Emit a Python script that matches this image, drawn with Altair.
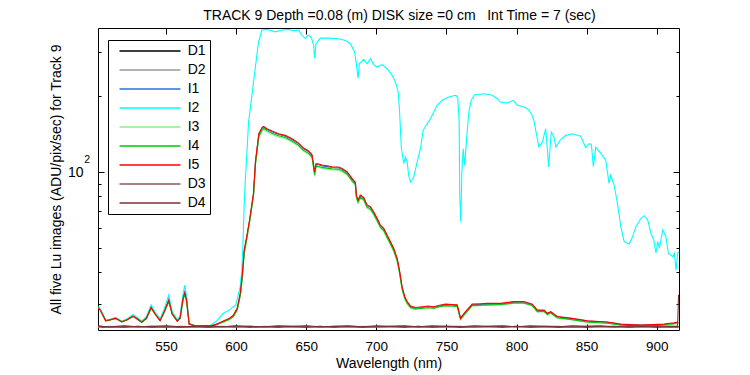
import altair as alt
import pandas as pd

FONT = "Liberation Sans"
TITLE = "TRACK 9 Depth =0.08 (m) DISK size =0 cm \u00a0\u00a0Int Time = 7 (sec)"
X_TITLE = "Wavelength (nm)"
Y_TITLE = "All five Lu images (ADU/pix/sec) for Track 9"

SERIES = ["D1", "D2", "I1", "I2", "I3", "I4", "I5", "D3", "D4"]
COLORS = ["#000000", "#999999", "#2673d9", "#00ffff", "#90ee90",
          "#00c800", "#ff0000", "#8c5a5a", "#7a3030"]

X_DOMAIN = [501.5, 915.9]
Y_DOMAIN = [23.6, 373.0]
X_TICKS = [550, 600, 650, 700, 750, 800, 850, 900]
Y_TICKS = [30, 40, 50, 60, 70, 80, 90, 100, 200, 300]
Y_MAJOR = [100]

# wavelengths for the four similar Lu images (I1, I3, I4, I5)
WL_I = [501.5, 503, 507, 510, 514, 518.5, 522, 526.5, 529.5, 532.7,
        536, 539.4, 542.2, 545.8, 548.6, 552, 554.4, 558, 560, 562.2,
        563.4, 564.7, 566.5, 570.8, 576, 581.5, 586.3, 590.8, 595, 598,
        600.8, 603, 604.4, 605.8, 607.5, 609.6, 612.4, 613.8, 616.2, 618.6,
        619.6, 622, 625.6, 630.3, 635.1, 639.9, 644.6, 648.1, 651.7, 654.1,
        655.3, 656, 657, 658.9, 661.3, 666, 668.4, 673.1, 675.6, 679.1,
        682.7, 685.1, 685.8, 687, 688.6, 691, 693.4, 695.8, 698.1, 700.6,
        702.9, 705.3, 707.7, 710.1, 712.4, 714.9, 716.5, 718.4, 720.3, 722,
        724.4, 727.9, 732.7, 737, 741, 745, 749.4, 754, 757.7, 760.1,
        763.6, 768.4, 774, 779.1, 788.6, 798.1, 805.3, 811.3, 814.9, 819.6,
        822, 824.4, 829.1, 838.6, 850.6, 864.9, 874.4, 888.6, 905.3, 912.4,
        915.3]

I5 = [28.9, 28.4, 25.6, 25.9, 26.3, 25.4, 25.9, 26.8, 26.1, 25.3,
      26.3, 29.0, 27.3, 25.7, 27.8, 31.0, 27.3, 25.6, 26.3, 31.6,
      33.2, 31.0, 24.9, 24.5, 24.4, 24.4, 24.9, 25.6, 26.2, 27.0,
      28.8, 33.1, 39.0, 49.0, 55.0, 64.5, 82.3, 110.0, 142.0, 150.5,
      151.8, 148.5, 145.4, 141.9, 139.8, 135.6, 130.3, 124.5, 121.2, 117.3,
      106.6, 100.0, 107.9, 107.6, 106.6, 105.6, 105.0, 104.7, 103.4, 100.3,
      94.4, 90.9, 81.0, 77.4, 81.0, 79.4, 74.0, 72.9, 69.6, 65.5,
      61.6, 59.8, 56.2, 52.9, 49.8, 45.4, 40.8, 35.0, 32.0, 30.6,
      29.4, 29.0, 29.2, 29.4, 29.2, 29.6, 29.9, 29.8, 29.7, 26.3,
      27.9, 29.9, 30.0, 30.1, 30.1, 30.6, 30.6, 29.9, 28.3, 28.3,
      27.5, 27.9, 26.7, 26.3, 25.7, 25.4, 24.9, 24.7, 24.9, 25.2,
      25.4]

I4 = [29.2, 28.5, 25.8, 25.8, 26.2, 25.5, 25.8, 26.7, 26.2, 25.4,
      26.2, 28.8, 27.4, 25.8, 27.6, 30.6, 27.4, 25.7, 26.2, 31.2,
      32.8, 30.6, 25.0, 24.6, 24.5, 24.5, 24.8, 25.4, 26.0, 26.7,
      28.4, 32.5, 38.2, 48.0, 54.0, 63.5, 81.0, 107.5, 138.5, 147.5,
      149.2, 146.0, 142.6, 139.2, 137.0, 132.8, 127.6, 121.9, 118.6, 114.8,
      104.0, 97.5, 105.5, 105.2, 104.3, 103.4, 102.9, 102.6, 101.3, 98.2,
      92.5, 89.0, 79.5, 76.0, 79.4, 77.8, 72.6, 71.4, 68.2, 64.2,
      60.4, 58.6, 55.1, 51.9, 48.8, 44.5, 40.1, 34.4, 31.5, 30.2,
      29.0, 28.6, 28.8, 29.0, 28.8, 29.2, 29.5, 29.4, 29.3, 26.0,
      27.5, 29.5, 29.6, 29.7, 29.8, 30.2, 30.2, 29.5, 27.9, 28.0,
      27.2, 27.6, 26.4, 26.0, 25.4, 25.1, 24.7, 24.6, 24.8, 25.0,
      25.2]

I3 = [29.0, 28.3, 25.7, 25.9, 26.1, 25.5, 25.9, 26.6, 26.0, 25.4,
      26.1, 28.7, 27.2, 25.8, 27.5, 30.5, 27.2, 25.7, 26.1, 31.0,
      32.6, 30.4, 25.0, 24.5, 24.4, 24.5, 24.8, 25.3, 25.9, 26.6,
      28.2, 32.0, 37.5, 47.0, 53.0, 62.5, 79.5, 106.0, 136.5, 145.5,
      147.2, 144.0, 141.0, 137.6, 135.6, 131.5, 126.4, 120.8, 117.6, 113.8,
      103.4, 96.0, 104.7, 104.4, 103.4, 102.4, 101.9, 101.6, 100.3, 97.3,
      91.6, 88.2, 78.6, 75.1, 78.6, 77.0, 71.8, 70.7, 67.5, 63.5,
      59.8, 58.0, 54.5, 51.3, 48.3, 44.0, 39.6, 34.0, 31.2, 29.9,
      28.8, 28.5, 28.7, 28.9, 28.7, 29.1, 29.4, 29.3, 29.2, 25.9,
      27.4, 29.4, 29.5, 29.6, 29.6, 30.1, 30.1, 29.4, 27.8, 27.9,
      27.1, 27.5, 26.3, 25.9, 25.3, 25.1, 24.6, 24.5, 24.7, 24.9,
      25.1]

I1 = [29.0, 28.4, 25.7, 25.9, 26.2, 25.4, 25.9, 26.8, 26.1, 25.3,
      26.2, 29.1, 27.3, 25.7, 27.9, 31.2, 27.3, 25.6, 26.3, 31.8,
      33.5, 31.1, 24.9, 24.5, 24.4, 24.4, 24.9, 25.5, 26.1, 26.9,
      28.7, 32.9, 38.8, 48.8, 54.7, 64.2, 81.8, 109.3, 141.2, 149.8,
      151.0, 147.6, 144.5, 141.0, 138.8, 134.6, 129.4, 123.6, 120.3, 116.5,
      105.8, 99.2, 107.1, 106.8, 105.8, 104.8, 104.2, 103.9, 102.6, 99.6,
      93.7, 90.2, 80.4, 76.8, 80.4, 78.8, 73.5, 72.4, 69.1, 65.0,
      61.2, 59.4, 55.8, 52.5, 49.5, 45.1, 40.5, 34.8, 31.8, 30.4,
      29.2, 28.8, 29.0, 29.2, 29.0, 29.4, 29.7, 29.6, 29.5, 26.2,
      27.7, 29.7, 29.8, 29.9, 29.9, 30.4, 30.4, 29.7, 28.1, 28.2,
      27.3, 27.8, 26.6, 26.2, 25.6, 25.3, 24.8, 24.7, 24.8, 25.1,
      25.3]

WL_I2 = [501.5, 503, 507, 510, 514, 518.5, 522, 526.5, 529.5, 532.7,
         536, 539.4, 542.2, 545.8, 548.6, 552, 554.4, 558, 560, 562.2,
         563.4, 564.7, 566.5, 570.8, 576, 581.5, 586, 590.9, 595, 599.8,
         602.9, 604.1, 604.8, 605.8, 606.5, 607.7, 608.9, 611.3, 613.6, 616,
         618.4, 622, 627.9, 633, 637.2, 641, 644.6, 647, 649.4, 651.3,
         653.6, 655.3, 656, 657, 660.1, 666, 673.1, 677.9, 681.5, 684.6,
         685.6, 687, 687.9, 691, 693.4, 695.8, 698.1, 700.6, 704.1, 707.7,
         711.3, 713.6, 715.6, 716.5, 717.2, 717.9, 719.6, 720.8, 722, 723.1,
         724.4, 726.7, 728.6, 731.5, 733.4, 736.3, 738.6, 741, 743.4, 747,
         751.7, 756.5, 758.1, 759.1, 759.5, 760.3, 761, 762, 763.1, 764.4,
         766, 767.7, 770.1, 776.7, 782.7, 786.3, 788.6, 793.4, 797.7, 800.6,
         805.3, 807.7, 810.6, 812.4, 814.4, 816, 818.4, 820.8, 822, 822.9,
         824.8, 826.7, 828.1, 831, 835.1, 839.9, 845.8, 849.4, 851.6, 853.4,
         854.8, 856.5, 860.1, 863.6, 866, 867.2, 869.6, 872, 874.4, 876.8,
         880.4, 882.8, 885.2, 888.8, 891.1, 893.6, 895.9, 897.9, 899.5, 900.7,
         901.9, 904.3, 906.6, 908.3, 911.4, 912.6, 913.8, 915, 915.6]

I2 = [29.2, 28.6, 25.8, 26.0, 26.5, 25.6, 26.1, 27.2, 26.4, 25.6,
      26.7, 29.7, 27.8, 26.1, 28.5, 32.5, 28.0, 25.9, 26.8, 33.0,
      35.6, 32.0, 25.0, 24.5, 24.5, 24.6, 25.6, 27.5, 28.3, 29.7,
      35.0, 40.8, 50.0, 75.0, 91.0, 119.0, 158.0, 202.0, 257.0, 328.0,
      366.0, 368.0, 360.0, 366.0, 368.0, 364.0, 366.0, 349.0, 338.0, 349.0,
      343.0, 318.0, 283.0, 323.0, 340.0, 340.0, 338.0, 333.0, 323.0, 299.0,
      273.0, 236.0, 269.0, 280.0, 269.0, 282.0, 267.0, 261.0, 267.0, 257.0,
      242.0, 228.0, 208.0, 178.0, 148.0, 124.0, 108.0, 114.7, 109.6, 97.0,
      91.3, 95.5, 106.3, 123.7, 146.4, 155.5, 162.7, 173.0, 184.0, 192.6,
      198.5, 201.6, 198.5, 157.9, 80.8, 63.3, 100.0, 123.7, 106.3, 135.6,
      173.0, 192.6, 202.6, 204.5, 201.6, 195.4, 189.6, 187.9, 192.6, 184.0,
      181.1, 178.3, 170.4, 160.4, 139.8, 125.6, 131.5, 148.5, 123.7, 104.7,
      144.1, 137.7, 125.6, 133.6, 139.8, 141.9, 138.7, 125.0, 129.5, 129.0,
      105.0, 125.3, 118.6, 111.6, 90.2, 97.3, 88.8, 75.1, 60.7, 52.9,
      51.8, 55.4, 60.7, 65.5, 67.1, 64.5, 57.1, 53.7, 47.6, 52.9,
      49.8, 58.9, 55.4, 47.6, 46.1, 47.6, 40.8, 47.6, 48.3]

# dark frames
WL_D = [501.5, 505, 510, 520, 530, 540, 550, 560, 570, 580,
        590, 600, 610, 620, 630, 640, 650, 660, 670, 680,
        690, 700, 710, 720, 730, 740, 750, 760, 770, 780,
        790, 800, 810, 820, 830, 840, 850, 860, 870, 880,
        890, 900, 910, 914.9, 915.6]
D1 = [24.3, 24.2, 24.3, 24.2, 24.4, 24.2, 24.3, 24.2, 24.3, 24.2,
      24.3, 24.4, 24.2, 24.3, 24.2, 24.3, 24.2, 24.4, 24.2, 24.3,
      24.2, 24.3, 24.3, 24.2, 24.4, 24.2, 24.3, 24.2, 24.3, 24.3,
      24.2, 24.4, 24.2, 24.3, 24.2, 24.3, 24.2, 24.3, 24.4, 24.2,
      24.3, 24.2, 24.3, 24.2, 24.3]
D2 = [24.2, 24.3, 24.4, 24.3, 24.2, 24.3, 24.4, 24.3, 24.2, 24.4,
      24.2, 24.3, 24.3, 24.4, 24.3, 24.2, 24.4, 24.3, 24.3, 24.2,
      24.4, 24.3, 24.2, 24.3, 24.3, 24.4, 24.2, 24.3, 24.4, 24.2,
      24.3, 24.3, 24.4, 24.2, 24.3, 24.4, 24.3, 24.2, 24.3, 24.4,
      24.2, 24.3, 24.4, 24.3, 24.2]
D3 = [24.4, 24.3, 24.2, 24.4, 24.3, 24.4, 24.2, 24.4, 24.3, 24.3,
      24.4, 24.2, 24.4, 24.3, 24.4, 24.4, 24.3, 24.2, 24.4, 24.4,
      24.3, 24.2, 24.4, 24.4, 24.2, 24.3, 24.4, 24.4, 24.2, 24.4,
      24.4, 24.3, 24.3, 24.4, 24.4, 24.2, 24.4, 24.4, 24.2, 24.3,
      24.4, 24.4, 24.2, 24.4, 24.3]
D4 = [24.5, 24.4, 24.3, 24.5, 24.3, 24.4, 24.5, 24.3, 24.4, 24.5,
      24.3, 24.5, 24.4, 24.3, 24.5, 24.4, 24.5, 24.3, 24.4, 24.5,
      24.3, 24.5, 24.4, 24.5, 24.3, 24.5, 24.4, 24.3, 24.5, 24.4,
      24.5, 24.3, 24.5, 24.4, 24.3, 24.5, 24.4, 24.5, 24.3, 24.5,
      24.4, 24.5, 24.4, 24.4, 32.6]

SOURCES = [("D1", WL_D, D1), ("D2", WL_D, D2), ("I1", WL_I, I1),
           ("I2", WL_I2, I2), ("I3", WL_I, I3), ("I4", WL_I, I4),
           ("I5", WL_I, I5), ("D3", WL_D, D3), ("D4", WL_D, D4)]

rows = []
for order, (name, wls, vals) in enumerate(SOURCES):
    for w, v in zip(wls, vals, strict=True):
        rows.append({"series": name, "wl": w, "v": v, "k": order})
df = pd.DataFrame(rows)
frame_df = pd.DataFrame({"wl": X_DOMAIN, "v": Y_DOMAIN})

x_scale = alt.Scale(domain=X_DOMAIN, nice=False, zero=False)
y_scale = alt.Scale(type="log", domain=Y_DOMAIN, nice=False)

y_tick_size = {"condition": {"test": "datum.value == 100", "value": 6}, "value": 3}

lines = alt.Chart(df).mark_line(strokeWidth=1.1, clip=True).encode(
    x=alt.X("wl:Q", scale=x_scale, axis=alt.Axis(
        orient="bottom", values=X_TICKS, ticks=False, tickSize=0,
        labelPadding=9, labelFontSize=13.5, labelFont=FONT, labelColor="black",
        labelFlush=False, domainColor="black", grid=False,
        title=X_TITLE, titleFont=FONT, titleFontSize=14, titleFontWeight="normal",
        titleColor="black", titleY=37, titleBaseline="alphabetic")),
    y=alt.Y("v:Q", scale=y_scale, axis=alt.Axis(
        orient="left", values=Y_MAJOR, labelExpr="'10'", ticks=False, tickSize=0,
        labelPadding=15, labelFontSize=14, labelFont=FONT, labelColor="black",
        domainColor="black", grid=False,
        title=Y_TITLE, titleFont=FONT, titleFontSize=14, titleFontWeight="normal",
        titleColor="black", titleX=-42, titleBaseline="middle")),
    color=alt.Color("series:N", scale=alt.Scale(domain=SERIES, range=COLORS),
                    legend=alt.Legend(
                        title=None, orient="none", legendX=10, legendY=12,
                        symbolType="M-10,0H10", symbolSize=37.2, symbolStrokeWidth=1.5,
                        labelFont=FONT, labelFontSize=14, labelColor="black",
                        labelExpr="datum.label + '\u00a0\u00a0'",
                        rowPadding=5.0, padding=4, symbolOffset=31, labelOffset=30.7,
                        strokeColor="black", fillColor="white", cornerRadius=0)),
    order=alt.Order("k:Q"),
)

ghost_bottom_left = alt.Chart(frame_df).mark_point(opacity=0).encode(
    x=alt.X("wl:Q", scale=x_scale, axis=alt.Axis(
        orient="top", offset=-302, values=X_TICKS, labels=False, domain=False,
        tickSize=6, tickColor="black", grid=False, title=None)),
    y=alt.Y("v:Q", scale=y_scale, axis=alt.Axis(
        orient="right", offset=-581, values=Y_TICKS, labels=False, domain=False,
        tickSize=y_tick_size, tickColor="black", grid=False, title=None)),
)

ghost_top_right = alt.Chart(frame_df).mark_point(opacity=0).encode(
    x=alt.X("wl:Q", scale=x_scale, axis=alt.Axis(
        orient="bottom", offset=-302, values=X_TICKS, labels=False, domain=True,
        domainColor="black", tickSize=6, tickColor="black", grid=False, title=None)),
    y=alt.Y("v:Q", scale=y_scale, axis=alt.Axis(
        orient="left", offset=-581, values=Y_TICKS, labels=False, domain=True,
        domainColor="black", tickSize=y_tick_size, tickColor="black", grid=False,
        title=None)),
)

ghost_exp = alt.Chart(frame_df).mark_point(opacity=0).encode(
    x=alt.X("wl:Q", scale=x_scale, axis=None),
    y=alt.Y("v:Q", scale=y_scale, axis=alt.Axis(
        orient="left", values=Y_MAJOR, labelExpr="'2'", ticks=False, tickSize=0,
        domain=False, labelPadding=8.5, labelOffset=-13, labelFontSize=10.5,
        labelFont=FONT, labelColor="black", grid=False, title=None)),
)

chart = alt.layer(lines, ghost_bottom_left, ghost_top_right, ghost_exp).resolve_axis(
    x="independent", y="independent"
).properties(
    width=581, height=302, autosize="none",
    padding={"left": 90, "top": 20, "right": 50, "bottom": 44},
    title=alt.TitleParams(TITLE, font=FONT, fontSize=14, fontWeight="normal",
                          color="black", anchor="middle", frame="group", dx=11,
                          offset=2),
).configure_view(stroke=None).configure(background="white")

chart.save("out.html", embed_options={"renderer": "svg", "actions": False})
